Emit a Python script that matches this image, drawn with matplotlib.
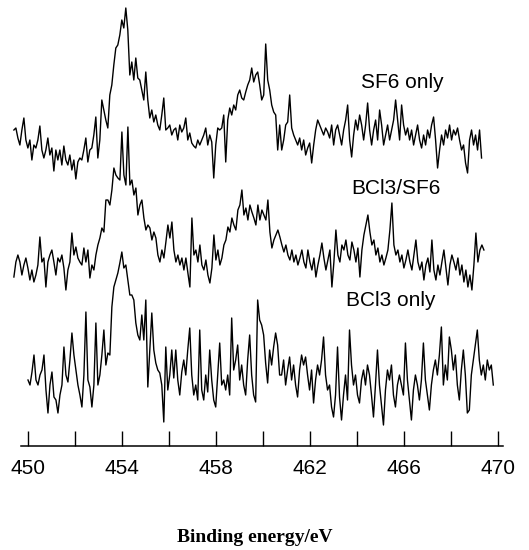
import numpy as np
import matplotlib
matplotlib.use("Agg")
import matplotlib.pyplot as plt
from matplotlib.ticker import FixedLocator

# XPS B/Cl region, intensities (a.u., each trace
# relative to its own baseline)
sf6_range = (449.4, 469.3)
sf6_only = [
    16, 18, 8, 1, 16, 28, 6, -2, 6, -14, 1, -2, 6, 20, -4, -12, -4, 8, -9, -2,
    -25, -4, -14, -4, -19, 0, -14, -19, -9, -24, -14, -33, -16, -12, -14, -4, 8, -16, -4, -2,
    11, 29, -12, 6, 46, 36, 26, 18, 51, 61, 81, 98, 101, 111, 126, 118, 138, 116, 71, 84,
    66, 88, 68, 66, 56, 46, 74, 46, 28, 36, 24, 31, 21, 16, 31, 48, 16, 18, 21, 11,
    16, 18, 6, 21, 14, 18, 28, 6, 13, 3, 0, -2, 6, 1, 6, 11, 18, 1, 11, 4,
    -32, 1, 18, 16, 18, 31, -16, 26, 38, 31, 41, 36, 51, 56, 48, 46, 54, 61, 66, 78,
    64, 71, 74, 61, 46, 51, 102, 66, 56, 41, 34, 31, -4, 21, -4, 6, 21, 24, 51, 18,
    11, 6, 1, 8, -4, 6, -9, -2, 3, -17, 1, 16, 26, 21, 16, 11, 18, 14, 8, 21,
    1, 16, 21, 11, 1, 16, 26, 41, 6, -11, 11, 26, 16, 31, 21, 6, 21, 43, 16, 1,
    16, 26, 6, 36, 21, 1, 11, 21, 6, 16, 26, 46, 26, 6, 41, 21, 11, 18, 6, 16,
    1, 11, 21, 6, -2, 11, 1, 16, 8, 21, 29, 6, -22, -4, 11, 1, 16, 8, 21, 6,
    16, 11, 18, 6, -4, 1, -17, -27, 6, 16, 1, 11, -4, 16, -12,
]

mixed_range = (449.4, 469.4)
bcl3_sf6 = [
    -11, 4, 11, 4, -9, 1, 8, -2, -14, -4, -16, -9, 1, 29, 4, 8, -21, 4, 11, 16,
    4, -9, 8, 4, 11, -2, -24, -4, 4, 33, 11, 19, 8, 4, 1, 18, 4, 16, -12, 1,
    -4, 11, 21, 28, 38, 34, 66, 66, 61, 76, 98, 91, 88, 86, 134, 91, 81, 139, 81, 86,
    71, 78, 51, 61, 66, 48, 36, 41, 38, 26, 34, 28, 11, 4, 16, 8, 24, 41, 28, 44,
    16, 4, 11, 1, 8, -4, 8, -7, -21, 48, 11, 16, 4, 21, 1, -4, 6, -9, -17, -2,
    31, 6, 16, 1, 8, 21, 26, 39, 34, 48, 41, 36, 56, 61, 76, 51, 58, 46, 61, 54,
    48, 41, 61, 46, 56, 51, 46, 66, 34, 18, 26, 31, 36, 29, 21, 14, 21, 11, 6, 16,
    4, 11, 1, 8, 16, 4, -2, 16, 4, -4, 8, -11, 1, 11, 23, 8, -4, 6, 16, -21,
    4, 36, 11, 4, 21, 16, 26, 11, 6, 24, 16, 4, 18, -11, 16, 31, 41, 51, 34, 21,
    26, 11, 18, 4, 11, 1, 8, 16, 36, 63, 21, 11, 16, 4, 11, -2, 6, 16, 4, -4,
    11, 26, 4, -4, 4, -14, 1, 8, -6, 26, -4, -14, 1, -9, 4, 16, -2, -19, 1, 11,
    4, -4, 8, -9, 1, -16, -4, -21, -9, -24, 1, 33, 4, 16, 21, 16,
]

bcl3_range = (450.0, 469.8)
bcl3_only = [
    6, 1, 14, 31, 6, 1, 11, 16, 31, -4, -27, 1, 14, -11, -14, -27, -9, 1, 39, 11,
    4, 26, 53, 31, 16, 1, -9, -21, 11, 74, 6, -1, -21, 1, 63, 1, 11, 31, 56, 21,
    33, 31, 79, 99, 106, 113, 123, 134, 118, 121, 106, 91, 91, 86, 63, 51, 46, 71, 46, 86,
    -1, 36, 73, 36, 23, 16, 13, 1, -36, 39, -4, 11, 36, 8, 36, 6, -9, 14, 26, 11,
    36, 58, 11, -9, 1, -14, 56, -4, -14, 11, -6, 36, 6, -14, -21, 11, 43, 1, 6, -4,
    11, -9, 68, 16, 26, 41, 6, 21, 1, -9, 26, 51, 11, -9, -16, 86, 66, 61, 51, 23,
    3, 36, 21, 39, 53, 41, 11, 11, 26, 1, 16, 29, 6, 21, 1, -11, 16, 31, 21, 29,
    11, -4, 16, -17, 6, 21, 11, 26, 49, 11, -4, 1, -21, -31, -9, 39, -11, -34, -9, 11,
    -14, 56, 21, 1, 11, -9, -17, 6, 16, 1, 21, 11, -9, -31, 1, 36, 1, -19, -39, -4,
    16, 6, 21, -9, -21, 1, 11, 1, -9, 43, 6, -14, -34, -4, 11, 1, -14, 6, 43, 6,
    -9, -24, 1, 16, 26, 11, 31, 59, 1, 21, 6, 49, 36, 16, 31, 1, -14, 16, 36, 11,
    -27, -24, 11, 26, 41, 56, 26, 11, 21, 6, 26, 16, 21, 1,
]

labels = ["SF6 only", "BCl3/SF6", "BCl3 only"]
offsets = [300, 180, 60]
label_pos = [(465.91, 363), (465.66, 258), (465.45, 145)]

series = [
    (sf6_range, sf6_only),
    (mixed_range, bcl3_sf6),
    (bcl3_range, bcl3_only),
]

fig = plt.figure(figsize=(5.29, 5.5), dpi=100)
ax = fig.add_axes([0, 0, 1, 1])

for (rng, vals), off, lab, pos in zip(series, offsets, labels, label_pos):
    energy = np.linspace(rng[0], rng[1], len(vals))
    ax.plot(energy, np.array(vals) + off, color="black", lw=1.0)
    ax.text(pos[0], pos[1], lab, fontsize=15, family="Liberation Sans",
            ha="center", va="center")

ax.set_xlim(448.809, 471.319)
ax.set_ylim(-104, 446)

for s in ["left", "right", "top"]:
    ax.spines[s].set_visible(False)
ax.spines["bottom"].set_position(("data", 0))
ax.spines["bottom"].set_bounds(449.7, 470.2)
ax.spines["bottom"].set_linewidth(1.1)

ax.set_yticks([])
ax.xaxis.set_major_locator(FixedLocator([450, 454, 458, 462, 466, 470]))
ax.xaxis.set_minor_locator(FixedLocator([452, 456, 460, 464, 468]))
ax.tick_params(axis="x", which="both", direction="in", length=10.8, width=1.0)
ax.tick_params(axis="x", which="major", pad=9, labelsize=15)
for t in ax.get_xticklabels():
    t.set_family("Liberation Sans")

ax.set_xlabel("Binding energy/eV", fontsize=14, family="Liberation Serif",
              fontweight="bold", va="center")
ax.xaxis.set_label_coords(0.482, 0.0236)

fig.savefig("out.png", dpi=100)
